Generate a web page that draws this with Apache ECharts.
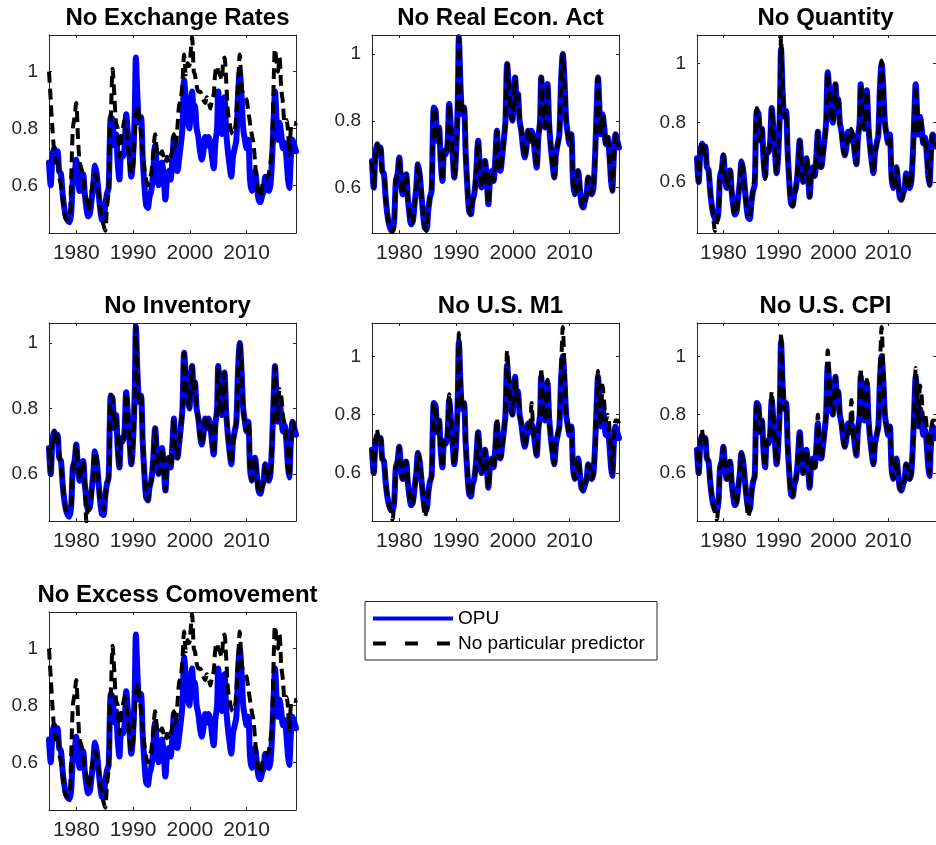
<!DOCTYPE html>
<html>
<head>
<meta charset="utf-8">
<script src="https://cdn.jsdelivr.net/npm/echarts@6/dist/echarts.min.js"></script>
<style>
  html, body { margin: 0; padding: 0; background: #fff; }
  #chart { width: 936px; height: 845px; }
</style>
</head>
<body>
<div id="chart"></div>
<script>
// Sample dates (fractional years)
const dates = [
  1975.2,1975.5,1975.8,1976.1,1976.4,1976.7,1977.0,1977.3,1977.6,1977.9,
  1978.2,1978.5,1978.8,1979.1,1979.4,1979.7,1980.0,1980.3,1980.6,1980.9,
  1981.2,1981.5,1981.8,1982.1,1982.4,1982.7,1983.0,1983.3,1983.6,1983.9,
  1984.2,1984.5,1984.8,1985.1,1985.4,1985.7,1985.9,1986.1,1986.4,1986.7,
  1987.0,1987.3,1987.6,1987.9,1988.2,1988.5,1988.8,1989.1,1989.4,1989.7,
  1990.0,1990.3,1990.5,1990.8,1991.1,1991.4,1991.7,1992.0,1992.3,1992.6,
  1992.9,1993.2,1993.5,1993.9,1994.2,1994.5,1994.8,1995.1,1995.4,1995.7,
  1996.0,1996.3,1996.6,1996.9,1997.2,1997.5,1997.8,1998.1,1998.4,1998.7,
  1999.0,1999.3,1999.6,1999.9,2000.2,2000.4,2000.7,2000.9,2001.2,2001.5,
  2001.8,2002.1,2002.4,2002.7,2003.0,2003.3,2003.6,2003.9,2004.2,2004.5,
  2004.8,2005.0,2005.3,2005.6,2005.9,2006.1,2006.4,2006.7,2007.0,2007.3,
  2007.6,2007.9,2008.2,2008.5,2008.8,2009.1,2009.4,2009.7,2010.0,2010.3,
  2010.6,2010.9,2011.2,2011.5,2011.8,2012.1,2012.4,2012.7,2013.0,2013.3,
  2013.6,2013.9,2014.2,2014.5,2014.8,2015.0,2015.3,2015.5,2015.8,2016.1,
  2016.4,2016.7,2017.0,2017.3,2017.5,2017.8,2018.1,2018.4,2018.7
];

// OPU
const opu = [
  0.68,0.60,0.70,0.73,0.70,0.72,0.65,0.64,0.57,0.52,
  0.49,0.475,0.47,0.50,0.62,0.64,0.69,0.62,0.58,0.63,
  0.64,0.57,0.52,0.49,0.50,0.55,0.60,0.67,0.64,0.58,
  0.52,0.48,0.475,0.53,0.57,0.59,0.75,0.84,0.83,0.74,
  0.78,0.68,0.62,0.71,0.70,0.73,0.85,0.78,0.70,0.63,
  0.70,0.85,1.05,0.90,0.82,0.84,0.70,0.60,0.53,0.52,
  0.56,0.58,0.63,0.74,0.66,0.60,0.62,0.68,0.63,0.55,
  0.63,0.65,0.62,0.68,0.77,0.66,0.65,0.69,0.74,0.80,
  0.97,0.90,0.83,0.80,0.88,0.93,0.85,0.88,0.80,0.77,
  0.72,0.69,0.72,0.77,0.74,0.77,0.75,0.70,0.66,0.75,
  0.80,0.93,0.82,0.78,0.86,0.91,0.79,0.72,0.67,0.63,
  0.70,0.73,0.76,0.92,1.00,0.92,0.80,0.76,0.73,0.76,
  0.62,0.58,0.60,0.65,0.60,0.55,0.54,0.56,0.58,0.63,
  0.62,0.58,0.60,0.70,0.85,0.93,0.82,0.76,0.82,0.78,
  0.73,0.75,0.70,0.62,0.59,0.70,0.76,0.74,0.72
];

// Predictions leaving out one predictor
const noExchangeRates = [
  1.00,0.90,0.80,0.72,0.68,0.70,0.63,0.60,0.55,0.50,
  0.48,0.48,0.48,0.62,0.80,0.84,0.89,0.77,0.68,0.66,
  0.63,0.58,0.55,0.51,0.53,0.58,0.62,0.64,0.62,0.58,
  0.52,0.49,0.46,0.44,0.52,0.58,0.78,0.85,1.01,0.92,
  0.82,0.80,0.70,0.77,0.80,0.83,0.80,0.74,0.68,0.64,
  0.66,0.78,0.85,0.88,0.84,0.78,0.72,0.66,0.62,0.60,
  0.62,0.64,0.70,0.78,0.72,0.70,0.71,0.72,0.70,0.68,
  0.70,0.68,0.70,0.72,0.78,0.74,0.80,0.88,0.90,0.96,
  1.06,0.99,1.03,1.02,1.08,1.12,1.00,0.99,0.95,0.93,
  0.93,0.92,0.90,0.89,0.91,0.90,0.87,0.90,0.92,1.00,
  1.02,1.00,0.99,0.97,1.04,1.05,0.97,0.86,0.82,0.79,
  0.78,0.79,0.85,0.96,1.06,0.95,0.92,0.91,0.90,0.86,
  0.82,0.78,0.75,0.68,0.60,0.57,0.56,0.59,0.62,0.62,
  0.63,0.64,0.68,0.74,0.99,1.08,1.03,1.00,1.05,0.94,
  0.89,0.82,0.83,0.79,0.71,0.80,0.82,0.82,0.81
];

const noRealEconAct = [
  0.68,0.60,0.70,0.73,0.70,0.72,0.65,0.64,0.57,0.52,
  0.49,0.475,0.466,0.50,0.62,0.64,0.69,0.62,0.58,0.63,
  0.64,0.57,0.52,0.49,0.50,0.55,0.60,0.67,0.64,0.58,
  0.52,0.48,0.47,0.53,0.57,0.59,0.75,0.84,0.83,0.74,
  0.78,0.68,0.62,0.71,0.70,0.73,0.85,0.78,0.70,0.63,
  0.70,0.85,1.05,0.90,0.82,0.84,0.70,0.60,0.53,0.52,
  0.56,0.58,0.63,0.74,0.66,0.60,0.62,0.68,0.63,0.55,
  0.63,0.65,0.62,0.68,0.77,0.66,0.65,0.69,0.74,0.80,
  0.97,0.90,0.83,0.80,0.88,0.93,0.85,0.88,0.80,0.77,
  0.72,0.69,0.72,0.77,0.74,0.77,0.75,0.70,0.66,0.75,
  0.80,0.93,0.82,0.78,0.86,0.91,0.79,0.72,0.67,0.63,
  0.70,0.73,0.76,0.92,1.00,0.92,0.80,0.76,0.73,0.76,
  0.62,0.58,0.60,0.65,0.60,0.55,0.54,0.56,0.58,0.63,
  0.62,0.58,0.60,0.70,0.85,0.93,0.82,0.76,0.82,0.78,
  0.73,0.75,0.70,0.62,0.59,0.70,0.76,0.74,0.72
];

const noQuantity = [
  0.68,0.60,0.70,0.73,0.70,0.72,0.65,0.64,0.57,0.52,
  0.47,0.435,0.46,0.50,0.62,0.64,0.69,0.62,0.58,0.63,
  0.64,0.57,0.52,0.49,0.50,0.55,0.60,0.67,0.64,0.58,
  0.52,0.49,0.49,0.53,0.58,0.62,0.75,0.85,0.83,0.74,
  0.78,0.68,0.61,0.71,0.70,0.73,0.85,0.78,0.70,0.63,
  0.70,0.86,1.09,0.92,0.82,0.84,0.70,0.60,0.53,0.52,
  0.56,0.58,0.63,0.74,0.66,0.60,0.62,0.68,0.63,0.55,
  0.63,0.65,0.62,0.68,0.77,0.66,0.65,0.69,0.74,0.80,
  0.97,0.90,0.83,0.80,0.88,0.93,0.85,0.88,0.80,0.77,
  0.72,0.69,0.72,0.77,0.74,0.78,0.75,0.70,0.66,0.75,
  0.80,0.93,0.82,0.78,0.86,0.91,0.79,0.72,0.67,0.63,
  0.70,0.73,0.76,0.92,1.01,0.92,0.80,0.76,0.73,0.76,
  0.62,0.58,0.60,0.65,0.60,0.55,0.54,0.56,0.58,0.63,
  0.62,0.58,0.60,0.70,0.85,0.93,0.82,0.76,0.82,0.78,
  0.73,0.75,0.70,0.62,0.59,0.70,0.76,0.74,0.72
];

const noInventory = [
  0.68,0.60,0.70,0.73,0.70,0.72,0.65,0.64,0.57,0.52,
  0.49,0.49,0.49,0.50,0.62,0.64,0.69,0.62,0.58,0.63,
  0.64,0.57,0.455,0.50,0.50,0.55,0.60,0.67,0.64,0.58,
  0.52,0.51,0.49,0.53,0.57,0.59,0.75,0.84,0.83,0.74,
  0.78,0.68,0.62,0.71,0.70,0.73,0.85,0.78,0.70,0.63,
  0.70,0.85,1.05,0.90,0.82,0.84,0.70,0.60,0.53,0.52,
  0.56,0.58,0.63,0.74,0.66,0.60,0.62,0.68,0.63,0.55,
  0.63,0.65,0.62,0.68,0.77,0.66,0.65,0.69,0.74,0.80,
  0.97,0.90,0.83,0.80,0.88,0.93,0.85,0.88,0.80,0.77,
  0.72,0.69,0.72,0.77,0.74,0.77,0.75,0.70,0.66,0.75,
  0.80,0.93,0.82,0.78,0.86,0.91,0.79,0.72,0.67,0.63,
  0.70,0.73,0.76,0.92,1.00,0.92,0.80,0.76,0.73,0.76,
  0.62,0.58,0.60,0.65,0.60,0.55,0.54,0.56,0.58,0.63,
  0.62,0.58,0.60,0.70,0.85,0.93,0.82,0.76,0.86,0.84,
  0.78,0.75,0.70,0.62,0.59,0.70,0.76,0.74,0.72
];

const noUSM1 = [
  0.68,0.60,0.70,0.75,0.70,0.72,0.65,0.64,0.57,0.52,
  0.49,0.47,0.44,0.50,0.62,0.64,0.69,0.62,0.58,0.63,
  0.64,0.57,0.52,0.49,0.50,0.55,0.60,0.67,0.64,0.58,
  0.52,0.45,0.47,0.53,0.57,0.59,0.75,0.84,0.83,0.74,
  0.78,0.68,0.62,0.71,0.70,0.73,0.87,0.78,0.70,0.63,
  0.70,0.85,1.08,0.92,0.82,0.84,0.70,0.60,0.53,0.52,
  0.56,0.58,0.63,0.74,0.66,0.60,0.62,0.68,0.63,0.55,
  0.63,0.65,0.62,0.68,0.79,0.66,0.65,0.69,0.74,0.80,
  1.02,0.93,0.83,0.80,0.88,0.93,0.85,0.88,0.80,0.77,
  0.72,0.69,0.72,0.77,0.74,0.84,0.75,0.70,0.66,0.75,
  0.80,0.96,0.82,0.78,0.86,0.92,0.79,0.72,0.67,0.63,
  0.70,0.73,0.76,0.95,1.10,0.95,0.80,0.76,0.73,0.76,
  0.62,0.58,0.60,0.65,0.60,0.55,0.54,0.56,0.58,0.63,
  0.62,0.58,0.60,0.70,0.85,0.95,0.82,0.76,0.90,0.84,
  0.78,0.80,0.76,0.66,0.60,0.72,0.78,0.78,0.77
];

const noUSCPI = [
  0.68,0.60,0.70,0.75,0.70,0.72,0.65,0.64,0.57,0.52,
  0.49,0.46,0.44,0.50,0.62,0.64,0.69,0.62,0.58,0.63,
  0.64,0.57,0.52,0.49,0.50,0.55,0.60,0.67,0.64,0.58,
  0.52,0.45,0.47,0.53,0.57,0.59,0.75,0.84,0.83,0.74,
  0.78,0.68,0.62,0.71,0.70,0.73,0.88,0.78,0.70,0.63,
  0.70,0.85,1.08,0.92,0.82,0.84,0.70,0.60,0.53,0.52,
  0.56,0.58,0.63,0.74,0.66,0.60,0.62,0.68,0.63,0.55,
  0.63,0.65,0.62,0.68,0.80,0.66,0.65,0.69,0.74,0.80,
  1.02,0.93,0.83,0.80,0.88,0.93,0.85,0.88,0.80,0.77,
  0.72,0.69,0.72,0.77,0.74,0.85,0.75,0.70,0.66,0.75,
  0.80,0.96,0.82,0.78,0.86,0.92,0.79,0.72,0.67,0.63,
  0.70,0.73,0.76,0.95,1.10,0.95,0.80,0.76,0.73,0.76,
  0.62,0.58,0.60,0.65,0.60,0.55,0.54,0.56,0.58,0.63,
  0.62,0.58,0.60,0.70,0.85,0.96,0.82,0.76,0.90,0.86,
  0.78,0.80,0.76,0.66,0.60,0.72,0.78,0.78,0.77
];

const noExcessComovement = [
  1.00,0.90,0.80,0.72,0.68,0.70,0.63,0.60,0.55,0.50,
  0.48,0.48,0.48,0.62,0.80,0.84,0.89,0.77,0.68,0.66,
  0.63,0.58,0.55,0.51,0.53,0.58,0.62,0.64,0.62,0.58,
  0.52,0.49,0.46,0.44,0.52,0.58,0.78,0.85,1.01,0.92,
  0.82,0.80,0.70,0.77,0.80,0.83,0.80,0.74,0.68,0.64,
  0.66,0.78,0.85,0.88,0.84,0.78,0.72,0.66,0.62,0.60,
  0.62,0.64,0.70,0.78,0.72,0.70,0.71,0.72,0.70,0.68,
  0.70,0.68,0.70,0.72,0.78,0.74,0.80,0.88,0.90,0.96,
  1.06,0.99,1.03,1.02,1.08,1.12,1.00,0.99,0.95,0.93,
  0.93,0.92,0.90,0.89,0.91,0.90,0.87,0.90,0.92,1.00,
  1.02,1.00,0.99,0.97,1.04,1.05,0.97,0.86,0.82,0.79,
  0.78,0.79,0.85,0.96,1.06,0.95,0.92,0.91,0.90,0.86,
  0.82,0.78,0.75,0.68,0.60,0.57,0.56,0.59,0.62,0.62,
  0.63,0.64,0.68,0.74,0.99,1.08,1.03,1.00,1.05,0.94,
  0.89,0.82,0.83,0.79,0.71,0.80,0.82,0.82,0.81
];

const panelTitles = [
  'No Exchange Rates', 'No Real Econ. Act', 'No Quantity',
  'No Inventory', 'No U.S. M1', 'No U.S. CPI',
  'No Excess Comovement'
];
const panelSeries = [
  noExchangeRates, noRealEconAct, noQuantity,
  noInventory, noUSM1, noUSCPI,
  noExcessComovement
];
// vertical limits of each panel (tight to the plotted data)
const yLimits = [
  [0.432, 1.129], [0.464, 1.057], [0.428, 1.096],
  [0.457, 1.061], [0.436, 1.114], [0.436, 1.114],
  [0.432, 1.129]
];
const xLimits = [1975.2, 2018.7];
const xTickValues = [1980, 1990, 2000, 2010];
const yTickValues = [0.6, 0.8, 1];
const legendNames = ['OPU', 'No particular predictor'];

// ---- layout ----
const colLeft = [49, 372, 697];
const rowTop = [35, 323, 612];
const plotW = 247, plotH = 198;
const FONT = '"Liberation Sans", Arial, Helvetica, sans-serif';
const AXIS_COLOR = '#262626';

const grids = [], xAxes = [], yAxes = [], series = [], titles = [];

panelTitles.forEach((name, i) => {
  const left = colLeft[i % 3];
  const top = rowTop[Math.floor(i / 3)];
  grids.push({ left: left, top: top, width: plotW, height: plotH, containLabel: false });

  titles.push({
    text: name,
    left: left + plotW / 2,
    top: top - 34,
    textAlign: 'center',
    textStyle: { fontFamily: FONT, fontSize: 24, fontWeight: 'bold', color: '#000' }
  });

  const baseX = {
    gridIndex: i, type: 'value', min: xLimits[0], max: xLimits[1],
    splitLine: { show: false },
    axisLine: { show: true, onZero: false, lineStyle: { color: AXIS_COLOR, width: 1 } },
    axisTick: { show: true, inside: true, length: 3, customValues: xTickValues,
                lineStyle: { color: AXIS_COLOR, width: 1 } }
  };
  xAxes.push(Object.assign({}, baseX, {
    position: 'bottom',
    axisLabel: { show: true, customValues: xTickValues, margin: 10,
                 fontFamily: FONT, fontSize: 21, color: AXIS_COLOR,
                 formatter: v => String(v) }
  }));
  xAxes.push(Object.assign({}, baseX, { position: 'top', axisLabel: { show: false } }));

  const baseY = {
    gridIndex: i, type: 'value', min: yLimits[i][0], max: yLimits[i][1],
    splitLine: { show: false },
    axisLine: { show: true, onZero: false, lineStyle: { color: AXIS_COLOR, width: 1 } },
    axisTick: { show: true, inside: true, length: 3, customValues: yTickValues,
                lineStyle: { color: AXIS_COLOR, width: 1 } }
  };
  yAxes.push(Object.assign({}, baseY, {
    position: 'left',
    axisLabel: { show: true, customValues: yTickValues, margin: 11,
                 fontFamily: FONT, fontSize: 19, color: AXIS_COLOR,
                 formatter: v => String(+v.toFixed(1)) }
  }));
  yAxes.push(Object.assign({}, baseY, { position: 'right', axisLabel: { show: false } }));

  series.push({
    name: legendNames[0], type: 'line', xAxisIndex: 2 * i, yAxisIndex: 2 * i,
    data: dates.map((d, k) => [d, opu[k]]),
    symbol: 'none', smooth: 0.3, clip: true, silent: true, z: 2,
    lineStyle: { color: '#0000ff', width: 6, cap: 'round', join: 'round' }
  });
  series.push({
    name: legendNames[1], type: 'line', xAxisIndex: 2 * i, yAxisIndex: 2 * i,
    data: dates.map((d, k) => [d, panelSeries[i][k]]),
    symbol: 'none', smooth: 0.3, clip: true, silent: true, z: 3,
    lineStyle: { color: '#000000', width: 4, type: [11, 6], cap: 'butt', join: 'round' }
  });
});

// legend box in the empty cell of the last row
const lg = { x: 365, y: 601.5, w: 292, h: 58.5 };
const graphic = [
  { type: 'rect', shape: { x: lg.x, y: lg.y, width: lg.w, height: lg.h },
    style: { fill: '#fff', stroke: AXIS_COLOR, lineWidth: 1 }, z: 10 },
  { type: 'line', shape: { x1: lg.x + 8, y1: lg.y + 17, x2: lg.x + 88, y2: lg.y + 17 },
    style: { stroke: '#0000ff', lineWidth: 4 }, z: 11 },
  { type: 'line', shape: { x1: lg.x + 8, y1: lg.y + 42, x2: lg.x + 88, y2: lg.y + 42 },
    style: { stroke: '#000', lineWidth: 4, lineDash: [13, 19] }, z: 11 },
  { type: 'text', x: lg.x + 93, y: lg.y + 17, z: 11,
    style: { text: legendNames[0], fontFamily: FONT, fontSize: 19, fill: '#000', verticalAlign: 'middle' } },
  { type: 'text', x: lg.x + 93, y: lg.y + 42, z: 11,
    style: { text: legendNames[1], fontFamily: FONT, fontSize: 19, fill: '#000', verticalAlign: 'middle' } }
];

const chart = echarts.init(document.getElementById('chart'), null, { renderer: 'canvas' });
chart.setOption({
  animation: false,
  backgroundColor: '#fff',
  title: titles,
  grid: grids,
  xAxis: xAxes,
  yAxis: yAxes,
  series: series,
  graphic: graphic
});
</script>
</body>
</html>
